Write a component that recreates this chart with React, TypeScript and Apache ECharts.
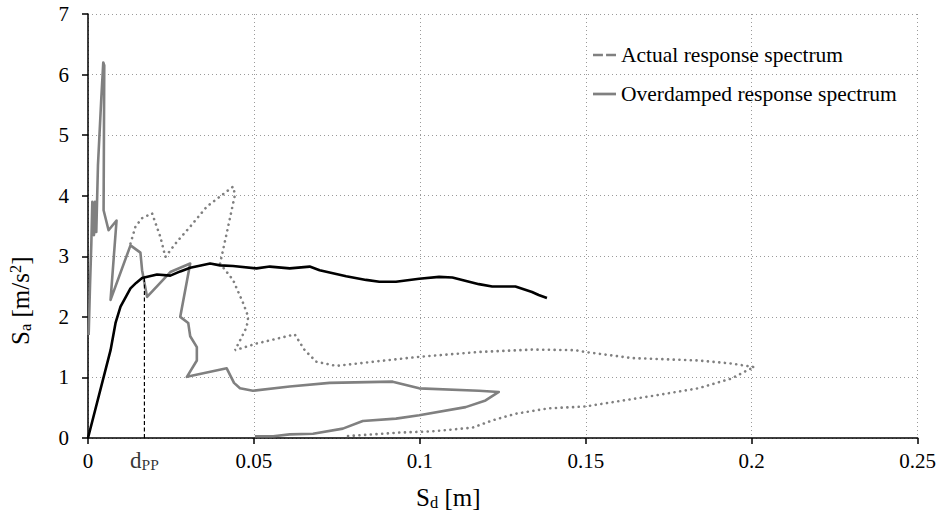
import React, { useEffect, useRef } from "react";
import * as echarts from "echarts";

// Capacity curve (Sd [m], Sa [m/s2])
const capacityCurve: [number, number][] = [
  [0, 0], [0.0068, 1.45], [0.0083, 1.9], [0.0098, 2.17], [0.0128, 2.47], [0.0145, 2.56],
  [0.0163, 2.64], [0.0208, 2.7], [0.0248, 2.68], [0.0278, 2.75], [0.0308, 2.81],
  [0.0368, 2.88], [0.0398, 2.85], [0.0437, 2.84], [0.0508, 2.8], [0.0548, 2.83],
  [0.0608, 2.8], [0.0668, 2.83], [0.0698, 2.77], [0.0778, 2.67], [0.0838, 2.61],
  [0.0878, 2.58], [0.0928, 2.58], [0.0998, 2.63], [0.1058, 2.66], [0.1098, 2.65],
  [0.1178, 2.54], [0.1218, 2.5], [0.1288, 2.5], [0.1338, 2.41], [0.1358, 2.36], [0.1383, 2.31],
];

// Overdamped response spectrum
const overdampedSpectrum: [number, number][] = [
  [0.0002, 1.7], [0.0006, 2.5], [0.001, 3.2], [0.0013, 3.9], [0.0018, 3.35], [0.0021, 3.9],
  [0.0025, 3.4], [0.003, 4.5], [0.004, 5.6], [0.0046, 6.2], [0.0049, 6.15], [0.0047, 3.76],
  [0.0062, 3.43], [0.0086, 3.59], [0.0068, 2.28], [0.0128, 3.18], [0.0158, 3.06],
  [0.0163, 2.77], [0.0178, 2.33], [0.0248, 2.74], [0.0308, 2.88], [0.0278, 2.0],
  [0.0302, 1.9], [0.0308, 1.68], [0.0328, 1.5], [0.0328, 1.28], [0.0298, 1.01],
  [0.0418, 1.15], [0.044, 0.91], [0.0458, 0.82], [0.0497, 0.78], [0.0608, 0.85],
  [0.0728, 0.91], [0.0918, 0.93], [0.0998, 0.82], [0.1178, 0.78], [0.1238, 0.76],
  [0.1198, 0.62], [0.1138, 0.51], [0.0998, 0.375], [0.0928, 0.32], [0.0828, 0.28],
  [0.0768, 0.155], [0.0678, 0.07], [0.0608, 0.06], [0.0558, 0.03], [0.0503, 0.03],
];

// Actual response spectrum
const actualSpectrum: [number, number][] = [
  [0.0128, 3.21], [0.0143, 3.49], [0.0163, 3.63], [0.0193, 3.71], [0.0218, 3.32],
  [0.0233, 2.99], [0.0268, 3.24], [0.0308, 3.49], [0.0358, 3.82], [0.0437, 4.15],
  [0.0443, 4.02], [0.0418, 3.38], [0.0398, 2.88], [0.0437, 2.61], [0.0468, 2.22],
  [0.0483, 2.0], [0.0478, 1.83], [0.0458, 1.61], [0.0443, 1.45], [0.0508, 1.56],
  [0.0623, 1.71], [0.0653, 1.45], [0.0688, 1.26], [0.0748, 1.19], [0.0878, 1.27],
  [0.0998, 1.34], [0.1178, 1.42], [0.1338, 1.46], [0.1468, 1.45], [0.1498, 1.42],
  [0.1638, 1.32], [0.1838, 1.28], [0.1938, 1.23], [0.2008, 1.17], [0.1988, 1.12],
  [0.1938, 0.98], [0.1838, 0.82], [0.1718, 0.71], [0.1498, 0.52], [0.1388, 0.49],
  [0.1288, 0.4], [0.1218, 0.29], [0.1158, 0.17], [0.1038, 0.11], [0.0938, 0.09],
  [0.0778, 0.03],
];

// Performance point displacement
const dPP = 0.017;
const SaPP = 2.65;

const legendNames = ["Actual response spectrum", "Overdamped response spectrum"];
const xMin = 0, xMax = 0.25, xStep = 0.05;
const yMin = 0, yMax = 7, yStep = 1;

export default function App() {
  const ref = useRef<HTMLDivElement>(null);
  useEffect(() => {
    const chart = echarts.init(ref.current!, null, { renderer: "svg" });
    const font = "'Liberation Serif', 'Times New Roman', serif";
    const gray = "#808080";
    chart.setOption({
      animation: false,
      backgroundColor: "#ffffff",
      textStyle: { fontFamily: font, color: "#000" },
      grid: { left: 88, right: 19, top: 14, bottom: 81, containLabel: false },
      xAxis: {
        type: "value", min: xMin, max: xMax, interval: xStep,
        axisLine: { show: true, onZero: false, lineStyle: { color: "#000", width: 1.5 } },
        axisTick: { show: true, length: 6, lineStyle: { color: "#000", width: 1.5 } },
        axisLabel: { fontFamily: font, fontSize: 21, color: "#000", margin: 12 },
        splitLine: { show: true, lineStyle: { color: "#9a9a9a", width: 1, type: [1, 3] } },
      },
      yAxis: {
        type: "value", min: yMin, max: yMax, interval: yStep,
        axisLine: { show: true, onZero: false, lineStyle: { color: "#000", width: 1.5 } },
        axisTick: { show: true, length: 6, lineStyle: { color: "#000", width: 1.5 } },
        axisLabel: { fontFamily: font, fontSize: 21, color: "#000", margin: 19 },
        splitLine: { show: true, lineStyle: { color: "#9a9a9a", width: 1, type: [1, 3] } },
      },
      legend: {
        show: true,
        orient: "vertical",
        left: 588,
        top: 39,
        itemWidth: 23,
        itemHeight: 14,
        itemGap: 17,
        textStyle: { fontFamily: font, fontSize: 21.5, color: "#000" },
        data: [
          { name: legendNames[0], icon: "path://M0,6 L9.5,6 L9.5,8.6 L0,8.6 Z M12.5,6 L22,6 L22,8.6 L12.5,8.6 Z", itemStyle: { color: gray } },
          { name: legendNames[1], icon: "path://M0,6 L22,6 L22,8.6 L0,8.6 Z", itemStyle: { color: gray } },
        ],
      },
      series: [
        {
          name: legendNames[0], type: "line", data: actualSpectrum, showSymbol: false, symbol: "none",
          lineStyle: { color: gray, width: 2.6, type: [0.1, 5.6], cap: "round" }, z: 2,
        },
        {
          name: legendNames[1], type: "line", data: overdampedSpectrum, showSymbol: false, symbol: "none",
          lineStyle: { color: gray, width: 2.6, join: "round" }, z: 3,
        },
        {
          name: "Capacity curve", type: "line", data: capacityCurve, showSymbol: false, symbol: "none",
          lineStyle: { color: "#000", width: 2.6, join: "round" }, z: 4,
        },
        {
          name: "dPP line", type: "line", data: [[dPP, 0], [dPP, SaPP]], showSymbol: false, symbol: "none",
          lineStyle: { color: "#000", width: 1.2, type: [4, 2.5] }, z: 5,
        },
        {
          name: "dPP label", type: "scatter", data: [[dPP, 0]], symbolSize: 0, z: 6,
          label: {
            show: true, position: "bottom", distance: 11,
            formatter: "{d|d}{s|PP}",
            rich: {
              d: { fontFamily: font, fontSize: 23, color: "#000", lineHeight: 23 },
              s: { fontFamily: font, fontSize: 15.5, color: "#000", lineHeight: 6, verticalAlign: "bottom" },
            },
          },
        },
      ],
      graphic: [
        {
          type: "text", left: 416, top: 485, z: 10,
          style: {
            text: "{m|S}{s|d}{m| [m]}",
            rich: {
              m: { fontFamily: font, fontSize: 25, fill: "#000", lineHeight: 27 },
              s: { fontFamily: font, fontSize: 16.5, fill: "#000", lineHeight: 6, verticalAlign: "bottom" },
            },
          },
        },
        {
          type: "text", x: 7, y: 345, rotation: Math.PI / 2, z: 10,
          style: {
            text: "{m|S}{s|a}{m| [m/s}{p|2}{m|]}",
            textVerticalAlign: "top",
            rich: {
              m: { fontFamily: font, fontSize: 25, fill: "#000", lineHeight: 27 },
              s: { fontFamily: font, fontSize: 16.5, fill: "#000", lineHeight: 6, verticalAlign: "bottom" },
              p: { fontFamily: font, fontSize: 16.5, fill: "#000", lineHeight: 6, verticalAlign: "top" },
            },
          },
        },
      ],
    });
    return () => chart.dispose();
  }, []);
  return <div ref={ref} style={{ position: "fixed", left: 0, top: 0, width: 939, height: 519 }} />;
}
